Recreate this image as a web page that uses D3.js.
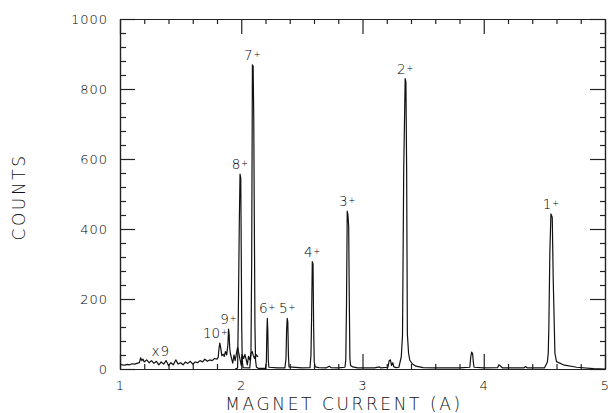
<!DOCTYPE html>
<html>
<head>
<meta charset="utf-8">
<script src="https://cdn.jsdelivr.net/npm/d3@7/dist/d3.min.js"></script>
<style>
  body { margin: 0; background: #fff; }
  svg { display: block; }
  .axis path, .axis line { stroke: #222; stroke-width: 1.2px; }
  .axis text { font-family: "DejaVu Sans", sans-serif; font-weight: 200; font-size: 13px; letter-spacing: 1px; fill: #000; }
  .title { font-family: "DejaVu Sans", sans-serif; font-weight: 200; font-size: 17px; letter-spacing: 2.6px; fill: #111; }
  .peak { font-family: "DejaVu Sans", sans-serif; font-weight: 200; font-size: 13.5px; fill: #000; }
  .trace { fill: none; stroke: #111; stroke-width: 1.2px; stroke-linejoin: round; }
</style>
</head>
<body>
<div id="vis"></div>
<script>
// spectrum, magnified x9 part at low current
var lowCurrent = [1.00, 1.02, 1.04, 1.06, 1.08, 1.10, 1.12, 1.14, 1.16, 1.17, 1.18, 1.19, 1.20, 1.22, 1.24, 1.26,
  1.28, 1.30, 1.32, 1.34, 1.36, 1.38, 1.40, 1.42, 1.44, 1.46, 1.48, 1.50, 1.52, 1.54, 1.56, 1.58, 1.60,
  1.62, 1.64, 1.66, 1.68, 1.70, 1.72, 1.74, 1.76, 1.78, 1.80, 1.81, 1.817, 1.823, 1.83, 1.84, 1.85, 1.86,
  1.87, 1.88, 1.89, 1.895, 1.90, 1.905, 1.91, 1.92, 1.93, 1.94, 1.95, 1.96, 1.97, 2.00, 2.01, 2.02, 2.03,
  2.04, 2.05, 2.06, 2.07, 2.08, 2.09, 2.10, 2.11, 2.12, 2.13, 2.14];
var lowCounts = [14, 12, 11, 13, 12, 15, 14, 16, 18, 32, 24, 28, 20, 26, 18, 24,
  16, 22, 12, 20, 14, 24, 10, 18, 12, 26, 14, 18, 12, 20, 16, 22, 14,
  20, 18, 24, 20, 28, 22, 26, 24, 30, 28, 34, 60, 74, 62, 38, 42, 36,
  50, 40, 70, 114, 100, 60, 45, 30, 17, 40, 24, 44, 62, 10, 38, 30, 42,
  28, 12, 36, 26, 45, 50, 38, 30, 42, 36, 38];

// spectrum, normal scale
var mainCurrent = [1.950, 1.970, 1.976, 1.984, 1.990, 1.996, 2.000, 2.004, 2.008, 2.015, 2.070, 2.080, 2.086,
  2.092, 2.098, 2.103, 2.108, 2.113, 2.118, 2.125, 2.140, 2.200, 2.207, 2.211, 2.215, 2.219, 2.223, 2.228,
  2.300, 2.360, 2.369, 2.374, 2.379, 2.384, 2.389, 2.394, 2.500, 2.567, 2.575, 2.580, 2.586, 2.592, 2.597,
  2.602, 2.610, 2.640, 2.700, 2.725, 2.740, 2.800, 2.855, 2.862, 2.868, 2.874, 2.880, 2.886, 2.891, 2.896,
  2.902, 2.920, 2.960, 3.100, 3.140, 3.150, 3.210, 3.220, 3.230, 3.240, 3.250, 3.258, 3.280, 3.300, 3.320,
  3.330, 3.340, 3.352, 3.358, 3.364, 3.370, 3.380, 3.390, 3.410, 3.440, 3.500, 3.600, 3.800, 3.885, 3.893,
  3.900, 3.908, 3.914, 3.920, 4.000, 4.115, 4.125, 4.140, 4.155, 4.330, 4.345, 4.360, 4.500, 4.525, 4.532,
  4.537, 4.545, 4.554, 4.560, 4.565, 4.573, 4.587, 4.600, 4.656, 4.766, 4.904, 5.000];
var mainCounts = [0, 3, 160, 420, 557, 545, 331, 120, 25, 4, 3, 40, 300,
  869, 865, 723, 420, 120, 25, 5, 2, 2, 20, 100, 145, 110, 25, 5,
  3, 3, 30, 110, 145, 135, 40, 6, 3, 4, 40, 143, 307, 300, 120,
  20, 6, 4, 3, 8, 4, 3, 5, 25, 180, 451, 440, 407, 200, 30,
  10, 6, 3, 3, 6, 3, 5, 24, 26, 10, 18, 6, 4, 5, 35,
  97, 573, 830, 820, 573, 100, 45, 25, 15, 8, 4, 3, 3, 5, 35,
  48, 44, 20, 5, 3, 4, 12, 8, 3, 3, 7, 3, 3, 20, 45,
  121, 331, 443, 438, 433, 254, 45, 21, 12, 5, 1, 0];

// charge state labels
var peakNames = ["1", "2", "3", "4", "5", "6", "7", "8", "9", "10"];
var peakCurrent = [4.554, 3.352, 2.874, 2.586, 2.379, 2.215, 2.092, 1.990, 1.895, 1.823];
var peakCounts = [443, 830, 451, 307, 145, 145, 869, 557, 114, 74];

var xTicks = [1, 2, 3, 4, 5];
var yTicks = [0, 200, 400, 600, 800, 1000];

var W = 610, H = 413;
var margin = {top: 19, right: 5, bottom: 44, left: 120},
    width = W - margin.left - margin.right,
    height = H - margin.top - margin.bottom;

var x = d3.scaleLinear().domain([1, 5]).range([0, width]);
var y = d3.scaleLinear().domain([0, 1000]).range([height, 0]);

var svg = d3.select("#vis").append("svg")
    .attr("width", W)
    .attr("height", H);

var g = svg.append("g")
    .attr("transform", "translate(" + margin.left + "," + margin.top + ")");

var xMinor = d3.range(1.2, 5, 0.2).filter(function(d) { return Math.abs(d - Math.round(d)) > 0.01; });
var yMinor = d3.range(40, 1000, 40).filter(function(d) { return d % 200 !== 0; });

// bottom axis, ticks pointing inward
g.append("g").attr("class", "axis")
    .attr("transform", "translate(0," + height + ")")
    .call(d3.axisBottom(x).tickValues(xTicks).tickSize(-15).tickSizeOuter(0).tickPadding(12).tickFormat(d3.format("d")));
g.append("g").attr("class", "axis")
    .attr("transform", "translate(0," + height + ")")
    .call(d3.axisBottom(x).tickValues(xMinor).tickSize(-5).tickSizeOuter(0).tickFormat(""));

// top axis
g.append("g").attr("class", "axis")
    .call(d3.axisTop(x).tickValues(xTicks).tickSize(-15).tickSizeOuter(0).tickFormat(""));
g.append("g").attr("class", "axis")
    .call(d3.axisTop(x).tickValues(xMinor).tickSize(-5).tickSizeOuter(0).tickFormat(""));

// left axis
g.append("g").attr("class", "axis")
    .call(d3.axisLeft(y).tickValues(yTicks).tickSize(-15).tickSizeOuter(0).tickPadding(12).tickFormat(d3.format("d")));
g.append("g").attr("class", "axis")
    .call(d3.axisLeft(y).tickValues(yMinor).tickSize(-6).tickSizeOuter(0).tickFormat(""));

// right axis
g.append("g").attr("class", "axis")
    .attr("transform", "translate(" + width + ",0)")
    .call(d3.axisRight(y).tickValues(yTicks).tickSize(-15).tickSizeOuter(0).tickFormat(""));
g.append("g").attr("class", "axis")
    .attr("transform", "translate(" + width + ",0)")
    .call(d3.axisRight(y).tickValues(yMinor).tickSize(-5).tickSizeOuter(0).tickFormat(""));

var line = d3.line()
    .x(function(d) { return x(d[0]); })
    .y(function(d) { return y(d[1]); });

g.append("path").attr("class", "trace")
    .datum(d3.zip(lowCurrent, lowCounts))
    .attr("d", line);

g.append("path").attr("class", "trace")
    .datum(d3.zip(mainCurrent, mainCounts))
    .attr("d", line);

// "x9" marker for the magnified part
g.append("text").attr("class", "peak")
    .attr("x", x(1.26))
    .attr("y", y(37))
    .style("letter-spacing", "1px")
    .text("x9");

// peak labels, digit then small raised +
var labels = g.selectAll(".plabel")
    .data(d3.zip(peakNames, peakCurrent, peakCounts))
  .enter().append("text")
    .attr("class", "peak plabel")
    .attr("text-anchor", "end")
    .attr("x", function(d) { return x(d[1]) + 8; })
    .attr("y", function(d) { return y(d[2]) - 5; });
labels.append("tspan").text(function(d) { return d[0]; });
labels.append("tspan")
    .attr("dx", 1)
    .attr("dy", -3)
    .style("font-size", "8px")
    .text("+");

// axis titles
svg.append("text").attr("class", "title")
    .attr("x", 344)
    .attr("y", 410)
    .attr("text-anchor", "middle")
    .text("MAGNET CURRENT (A)");

svg.append("text").attr("class", "title")
    .attr("transform", "translate(25,197) rotate(-90)")
    .attr("text-anchor", "middle")
    .text("COUNTS");
</script>
</body>
</html>
